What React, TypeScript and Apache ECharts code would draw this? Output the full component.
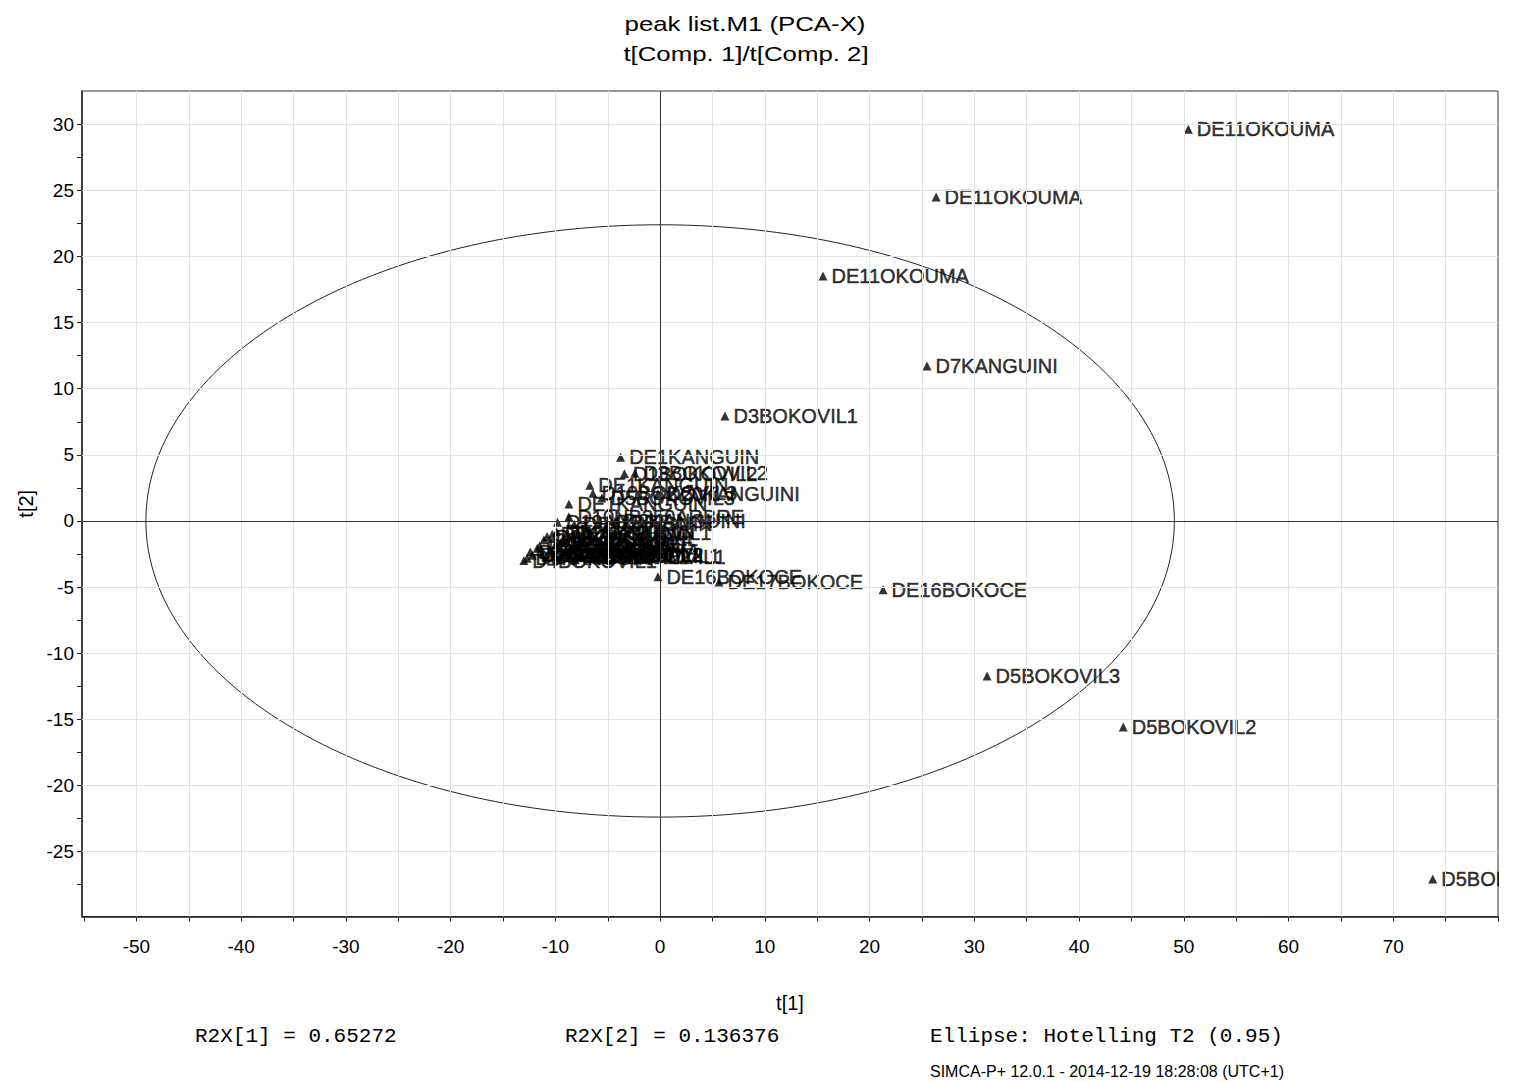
import React, { useEffect, useRef } from "react";
import * as echarts from "echarts";

// ---- Data ----
const sampleNames = [
  "DE11OKOUMA", "DE11OKOUMA", "DE11OKOUMA", "D7KANGUINI", "D3BOKOVIL1",
  "DE16BOKOCE", "D5BOKOVIL3", "D5BOKOVIL2", "D5BOKOVIL1", "DE16BOKOCE", "DE17BOKOCE",
  "DE1KANGUIN", "D1BOKOVIL2", "D3BOKOVIL2", "DE1KANGUIN", "D10BOKOVIL3",
  "D5BOKOVIL3", "D20KANGUINI", "DE1KANGUIN", "D10NB350ARBRE", "D2KANGUINI",
  "D16BOKOVIL1", "DE2KANGUIN", "D9BOKOCE", "D8OKOUMA", "D7BOKOVIL2",
  "D6KANGUIN", "D4BOKOVIL1", "D2BOKOVIL1", "D12OKOUMA", "D15BOKOCE",
  "DE3BOKOCE", "D11BOKOVIL2", "D5BOKOVIL1", "D14OKOUMA", "DE5BOKOVIL",
  "D9KANGUINI", "DE8OKOUMA", "D18BOKOVIL1", "DE4KANGUIN", "DE6BOKOCE",
  "D17BOKOVIL2", "D3BOKOVIL2", "DE9BOKOCE", "D19ARBRE",
];
const t1Scores = [
  50.43, 26.35, 15.55, 25.48, 6.19,
  21.29, 31.22, 44.22, 73.77, -0.21, 5.62,
  -3.77, -3.41, -2.41, -6.71, -6.42,
  -5.56, -0.21, -8.71, -8.71, -4.31,
  -8.88, -9.89, -10.79, -11.1, -11.74,
  -12.7, -13.01, -12.2, -11.3, -10.5,
  -10.0, -9.5, -6.45, -9.0, -9.3,
  -10.3, -11.5, -8.0, -8.2, -12.4,
  -10.9, -8.6, -9.5, -9.8,
];
const t2Scores = [
  29.62, 24.5, 18.53, 11.72, 7.94,
  -5.21, -11.72, -15.58, -27.09, -4.23, -4.61,
  4.82, 3.56, 3.61, 2.69, 2.1,
  1.74, 2.05, 1.29, 0.31, -0.02,
  -0.9, -0.81, -1.18, -1.43, -2.06,
  -2.82, -3.0, -2.6, -2.5, -2.2,
  -1.8, -2.6, -2.75, -2.3, -1.4,
  -1.0, -1.9, -2.65, -0.25, -2.35,
  -2.7, -2.55, -1.65, -0.1,
];

const xTickLabels = [-50, -40, -30, -20, -10, 0, 10, 20, 30, 40, 50, 60, 70];
const xTickMarks = [-55, -50, -45, -40, -35, -30, -25, -20, -15, -10, -5, 0, 5, 10, 15, 20, 25, 30, 35, 40, 45, 50, 55, 60, 65, 70, 75, 80];
const xGridValues = [-50, -45, -40, -35, -30, -25, -20, -15, -10, -5, 5, 10, 15, 20, 25, 30, 35, 40, 45, 50, 55, 60, 65, 70, 75];
const yTickLabels = [-25, -20, -15, -10, -5, 0, 5, 10, 15, 20, 25, 30];
const yTickMarks = [-27.5, -25, -22.5, -20, -17.5, -15, -12.5, -10, -7.5, -5, -2.5, 0, 2.5, 5, 7.5, 10, 12.5, 15, 17.5, 20, 22.5, 25, 27.5, 30];
const yGridValues = [-25, -20, -15, -10, -5, 5, 10, 15, 20, 25, 30];

const X_RANGE = [-55.2, 80];
const Y_RANGE = [-29.92, 32.52];
const ELLIPSE_CENTER = [0, 0];
const ELLIPSE_SEMI_AXES = [49.1, 22.4];

const titleLines = ["peak list.M1 (PCA-X)", "t[Comp. 1]/t[Comp. 2]"];
const footerStats = ["R2X[1] = 0.65272", "R2X[2] = 0.136376", "Ellipse: Hotelling T2 (0.95)"];
const footerCredit = "SIMCA-P+ 12.0.1 - 2014-12-19 18:28:08 (UTC+1)";

const SANS = "'Liberation Sans', Arial, Helvetica, sans-serif";
const MONO = "'Liberation Mono', 'Courier New', Courier, monospace";

export default function App() {
  const ref = useRef<HTMLDivElement>(null);

  useEffect(() => {
    document.body.style.margin = "0";
    if (!ref.current) return;
    const chart = echarts.init(ref.current, null, { renderer: "svg" });

    const points = sampleNames.map((n, i) => ({ name: n, value: [t1Scores[i], t2Scores[i]] }));

    const option: any = {
      animation: false,
      backgroundColor: "#fff",
      grid: {
        left: 82,
        top: 91,
        width: 1416,
        height: 825.5,
        show: true,
        borderColor: "#333",
        borderWidth: 1,
        backgroundColor: "transparent",
      },
      xAxis: {
        type: "value",
        min: X_RANGE[0],
        max: X_RANGE[1],
        axisLine: { show: true, onZero: false, lineStyle: { color: "#222", width: 1.5 } },
        axisTick: { show: true, customValues: xTickMarks, length: 5, lineStyle: { color: "#222", width: 1 } },
        axisLabel: { customValues: xTickLabels, fontSize: 19, color: "#000", margin: 20, fontFamily: SANS },
        splitLine: { show: false },
        name: "t[1]",
        nameLocation: "middle",
        nameGap: 76,
        nameTextStyle: { fontSize: 20, color: "#000", fontFamily: SANS },
      },
      yAxis: {
        type: "value",
        min: Y_RANGE[0],
        max: Y_RANGE[1],
        axisLine: { show: true, onZero: false, lineStyle: { color: "#222", width: 1.5 } },
        axisTick: { show: true, customValues: yTickMarks, length: 5, lineStyle: { color: "#222", width: 1 } },
        axisLabel: { customValues: yTickLabels, fontSize: 19, color: "#000", margin: 8, fontFamily: SANS },
        splitLine: { show: false },
        name: "t[2]",
        nameLocation: "middle",
        nameGap: 25,
        nameTextStyle: { fontSize: 20, color: "#000", fontFamily: SANS },
      },
      series: [
        {
          type: "line",
          data: [],
          silent: true,
          z: 1,
          markLine: {
            silent: true,
            animation: false,
            symbol: ["none", "none"],
            label: { show: false },
            lineStyle: { color: "#e4e4e4", width: 1, type: "solid" },
            data: [
              ...xGridValues.map((v) => ({ xAxis: v })),
              ...yGridValues.map((v) => ({ yAxis: v })),
            ],
          },
        },
        {
          type: "line",
          data: [],
          silent: true,
          z: 2,
          markLine: {
            silent: true,
            animation: false,
            symbol: ["none", "none"],
            label: { show: false },
            lineStyle: { color: "#333", width: 1, type: "solid" },
            data: [{ xAxis: 0 }, { yAxis: 0 }],
          },
        },
        {
          type: "custom",
          coordinateSystem: "cartesian2d",
          silent: true,
          z: 2,
          clip: false,
          data: [ELLIPSE_CENTER],
          renderItem: (params: any, api: any) => {
            const c = api.coord([api.value(0), api.value(1)]);
            const s = api.size([ELLIPSE_SEMI_AXES[0], ELLIPSE_SEMI_AXES[1]]);
            return {
              type: "ellipse",
              shape: { cx: c[0], cy: c[1], rx: s[0], ry: s[1] },
              style: { fill: "none", stroke: "#222", lineWidth: 1 },
            };
          },
        },
        {
          type: "scatter",
          data: points,
          symbol: "triangle",
          symbolSize: 9,
          silent: true,
          z: 3,
          itemStyle: { color: "#000" },
          label: {
            show: true,
            position: "right",
            distance: 4,
            formatter: "{b}",
            fontSize: 20,
            fontFamily: SANS,
            color: "#000",
            textBorderWidth: 0.5,
            textBorderColor: "#000",
            textShadowBlur: 0,
          },
        },
      ],
      graphic: [
        {
          type: "rect",
          z: 100,
          shape: { x: 1499, y: 0, width: 40, height: 1082 },
          style: { fill: "#fff" },
          silent: true,
        },
        {
          type: "text",
          z: 100,
          x: 745,
          y: 24,
          scaleX: 1.23,
          style: { text: titleLines[0], fontSize: 21, fontFamily: SANS, fill: "#000", align: "center", verticalAlign: "middle" },
        },
        {
          type: "text",
          z: 100,
          x: 746,
          y: 54,
          scaleX: 1.23,
          style: { text: titleLines[1], fontSize: 21, fontFamily: SANS, fill: "#000", align: "center", verticalAlign: "middle" },
        },
        {
          type: "text",
          z: 100,
          x: 195,
          y: 1036,
          style: { text: footerStats[0], fontSize: 21, fontFamily: MONO, fill: "#000", align: "left", verticalAlign: "middle" },
        },
        {
          type: "text",
          z: 100,
          x: 565,
          y: 1036,
          style: { text: footerStats[1], fontSize: 21, fontFamily: MONO, fill: "#000", align: "left", verticalAlign: "middle" },
        },
        {
          type: "text",
          z: 100,
          x: 930,
          y: 1036,
          style: { text: footerStats[2], fontSize: 21, fontFamily: MONO, fill: "#000", align: "left", verticalAlign: "middle" },
        },
        {
          type: "text",
          z: 100,
          x: 930,
          y: 1071,
          style: { text: footerCredit, fontSize: 16, fontFamily: SANS, fill: "#000", align: "left", verticalAlign: "middle" },
        },
      ],
    };

    chart.setOption(option);
    return () => chart.dispose();
  }, []);

  return (
    <div
      ref={ref}
      style={{ position: "absolute", left: 0, top: 0, width: 1529, height: 1082, background: "#fff" }}
    />
  );
}
